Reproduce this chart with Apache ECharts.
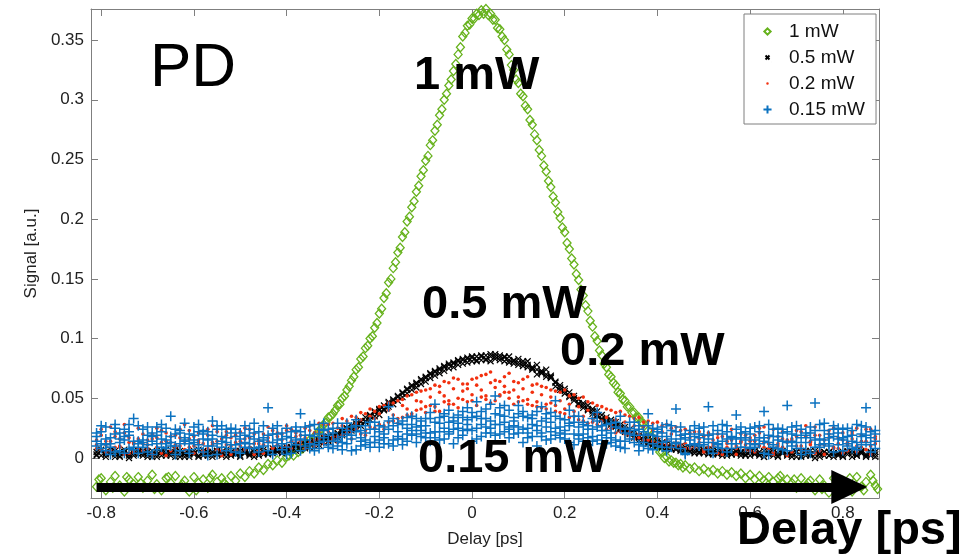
<!DOCTYPE html>
<html>
<head>
<meta charset="utf-8">
<script src="https://cdn.jsdelivr.net/npm/echarts@6/dist/echarts.min.js"></script>
<style>html,body{margin:0;padding:0;background:#fff;}#c{width:967px;height:560px;}</style>
</head>
<body>
<div id="c"></div>
<script>
// ---------- DATA ----------
const xTicks = [-0.8, -0.6, -0.4, -0.2, 0, 0.2, 0.4, 0.6, 0.8];
const yTicks = [0, 0.05, 0.1, 0.15, 0.2, 0.25, 0.3, 0.35];
const seriesNames = ['1 mW', '0.5 mW', '0.2 mW', '0.15 mW'];

// 1 mW trace: [delay ps, signal a.u.]
const green1mW = [
[-0.81,-0.024],[-0.80,-0.017],[-0.79,-0.027],[-0.78,-0.020],[-0.77,-0.015],[-0.76,-0.023],[-0.75,-0.028],[-0.74,-0.018],[-0.73,-0.022],[-0.72,-0.016],
[-0.71,-0.025],[-0.70,-0.019],[-0.69,-0.014],[-0.68,-0.022],[-0.67,-0.027],[-0.66,-0.017],[-0.65,-0.021],[-0.64,-0.015],[-0.63,-0.024],[-0.62,-0.019],
[-0.61,-0.028],[-0.60,-0.016],[-0.59,-0.021],[-0.58,-0.018],[-0.57,-0.025],[-0.56,-0.014],[-0.55,-0.020],[-0.54,-0.017],[-0.53,-0.023],[-0.52,-0.015],
[-0.51,-0.019],[-0.50,-0.013],[-0.49,-0.016],[-0.48,-0.011],[-0.47,-0.013],[-0.46,-0.008],[-0.45,-0.010],[-0.44,-0.005],[-0.43,-0.006],[-0.42,-0.002],
[-0.41,-0.004],[-0.40,0.001],
[-0.805,-0.018],[-0.775,-0.025],[-0.745,-0.016],[-0.715,-0.021],[-0.685,-0.026],[-0.655,-0.016],[-0.625,-0.022],[-0.595,-0.027],[-0.565,-0.017],[-0.535,-0.021],
[-0.395,0.002],[-0.39,0.005],[-0.385,0.002],[-0.38,0.007],[-0.375,0.005],[-0.37,0.009],[-0.365,0.008],[-0.36,0.012],[-0.355,0.011],[-0.35,0.015],
[-0.345,0.014],[-0.34,0.018],[-0.335,0.020],[-0.33,0.023],[-0.325,0.024],[-0.32,0.028],[-0.315,0.030],[-0.31,0.034],[-0.305,0.035],[-0.30,0.037],
[-0.295,0.040],[-0.29,0.044],[-0.285,0.045],[-0.28,0.050],[-0.275,0.052],[-0.27,0.057],[-0.265,0.060],[-0.26,0.065],[-0.255,0.068],[-0.25,0.074],
[-0.245,0.076],[-0.24,0.083],[-0.235,0.085],[-0.23,0.092],[-0.225,0.094],[-0.22,0.100],[-0.215,0.102],[-0.21,0.109],[-0.205,0.113],[-0.20,0.121],
[-0.195,0.125],[-0.19,0.134],[-0.185,0.138],[-0.18,0.147],[-0.175,0.150],[-0.17,0.159],[-0.165,0.164],[-0.16,0.172],[-0.155,0.176],[-0.15,0.185],
[-0.145,0.189],[-0.14,0.198],[-0.135,0.202],[-0.13,0.210],[-0.125,0.215],[-0.12,0.223],[-0.115,0.228],[-0.11,0.236],[-0.105,0.241],[-0.10,0.249],
[-0.095,0.253],[-0.09,0.262],[-0.085,0.266],[-0.08,0.274],[-0.075,0.279],[-0.07,0.287],[-0.065,0.292],[-0.06,0.300],[-0.055,0.305],[-0.05,0.312],
[-0.045,0.317],[-0.04,0.324],[-0.035,0.330],[-0.03,0.338],[-0.025,0.344],[-0.02,0.353],[-0.015,0.356],[-0.01,0.362],[-0.005,0.363],[0.00,0.368],
[0.005,0.368],[0.01,0.372],[0.015,0.371],[0.02,0.375],[0.025,0.372],[0.03,0.376],[0.035,0.371],[0.04,0.372],[0.045,0.367],[0.05,0.367],
[0.055,0.360],[0.06,0.359],[0.065,0.353],[0.07,0.350],[0.075,0.342],[0.08,0.338],[0.085,0.329],[0.09,0.325],[0.095,0.317],[0.10,0.314],
[0.105,0.305],[0.11,0.303],[0.115,0.295],[0.12,0.292],[0.125,0.283],[0.13,0.279],[0.135,0.271],[0.14,0.266],[0.145,0.258],[0.15,0.253],
[0.155,0.245],[0.16,0.240],[0.165,0.232],[0.17,0.227],[0.175,0.219],[0.18,0.214],[0.185,0.206],[0.19,0.201],[0.195,0.193],[0.20,0.189],
[0.205,0.180],[0.21,0.175],[0.215,0.167],[0.22,0.162],[0.225,0.154],[0.23,0.149],[0.235,0.141],[0.24,0.136],[0.245,0.128],[0.25,0.123],
[0.255,0.115],[0.26,0.110],[0.265,0.102],[0.27,0.098],[0.275,0.090],[0.28,0.086],[0.285,0.079],[0.29,0.076],[0.295,0.070],[0.30,0.068],
[0.305,0.063],[0.31,0.061],[0.315,0.055],[0.32,0.054],[0.325,0.049],[0.33,0.048],[0.335,0.043],[0.34,0.043],[0.345,0.038],[0.35,0.038],
[0.355,0.034],[0.36,0.034],[0.365,0.030],[0.37,0.029],[0.375,0.025],[0.38,0.023],[0.385,0.018],[0.39,0.017],[0.395,0.011],[0.40,0.010],
[0.405,0.005],[0.41,0.005],[0.415,0.000],[0.42,0.001],[0.425,-0.003],[0.43,-0.002],[0.435,-0.004],[0.44,-0.004],[0.445,-0.006],[0.45,-0.005],
[0.455,-0.008],
[0.46,-0.006],[0.47,-0.009],[0.48,-0.008],[0.49,-0.011],[0.50,-0.009],[0.51,-0.012],[0.52,-0.010],[0.53,-0.013],[0.54,-0.011],[0.55,-0.014],
[0.56,-0.012],[0.57,-0.015],[0.58,-0.013],[0.59,-0.017],[0.60,-0.014],[0.61,-0.018],[0.62,-0.015],[0.63,-0.019],[0.64,-0.016],[0.65,-0.020],
[0.66,-0.017],[0.67,-0.022],[0.68,-0.018],[0.69,-0.021],[0.70,-0.025],[0.71,-0.017],[0.72,-0.024],[0.73,-0.019],[0.74,-0.027],[0.75,-0.018],
[0.76,-0.023],[0.77,-0.029],[0.78,-0.017],[0.79,-0.025],[0.80,-0.019],[0.81,-0.022],[0.82,-0.028],[0.83,-0.016],[0.84,-0.024],[0.85,-0.020],
[0.86,-0.014],[0.87,-0.023],
[0.635,-0.021],[0.665,-0.015],[0.695,-0.018],[0.725,-0.021],[0.755,-0.026],[0.785,-0.021],[0.815,-0.017],[0.845,-0.027],[0.865,-0.019],[0.875,-0.026]
];

// common delay grid (ps) of the three weaker traces
const delay = [
-0.81,-0.80,-0.79,-0.78,-0.77,-0.76,-0.75,-0.74,-0.73,-0.72,
-0.71,-0.70,-0.69,-0.68,-0.67,-0.66,-0.65,-0.64,-0.63,-0.62,
-0.61,-0.60,-0.59,-0.58,-0.57,-0.56,-0.55,-0.54,-0.53,-0.52,
-0.51,-0.50,-0.49,-0.48,-0.47,-0.46,-0.45,-0.44,-0.43,-0.42,
-0.41,-0.40,-0.39,-0.38,-0.37,-0.36,-0.35,-0.34,-0.33,-0.32,
-0.31,-0.30,-0.29,-0.28,-0.27,-0.26,-0.25,-0.24,-0.23,-0.22,
-0.21,-0.20,-0.19,-0.18,-0.17,-0.16,-0.15,-0.14,-0.13,-0.12,
-0.11,-0.10,-0.09,-0.08,-0.07,-0.06,-0.05,-0.04,-0.03,-0.02,
-0.01,0.00,0.01,0.02,0.03,0.04,0.05,0.06,0.07,0.08,
0.09,0.10,0.11,0.12,0.13,0.14,0.15,0.16,0.17,0.18,
0.19,0.20,0.21,0.22,0.23,0.24,0.25,0.26,0.27,0.28,
0.29,0.30,0.31,0.32,0.33,0.34,0.35,0.36,0.37,0.38,
0.39,0.40,0.41,0.42,0.43,0.44,0.45,0.46,0.47,0.48,
0.49,0.50,0.51,0.52,0.53,0.54,0.55,0.56,0.57,0.58,
0.59,0.60,0.61,0.62,0.63,0.64,0.65,0.66,0.67,0.68,
0.69,0.70,0.71,0.72,0.73,0.74,0.75,0.76,0.77,0.78,
0.79,0.80,0.81,0.82,0.83,0.84,0.85,0.86,0.87
];

// signals below in units of 0.001 a.u., one value per delay
const black05mW_scanA = [
2,6,3,5,1,4,7,3,2,5, 4,1,6,3,5,2,4,7,3,1, 5,3,2,6,4,1,3,5,7,2, 3,6,4,2,5,3,7,4,6,5,
4,9,6,10,7,12,9,14,11,17, 14,19,17,23,21,27,25,31,30,36, 35,41,40,47,45,52,51,58,57,63, 62,68,67,73,71,77,75,80,78,83,
80,85,81,86,82,87,83,86,81,85, 82,78,81,76,75,70,72,68,67,60, 61,54,55,48,49,42,44,37,39,32, 34,28,30,24,26,20,21,15,18,12,
15,10,13,8,11,7,10,5,9,4, 8,4,7,3,6,2,5,3,6,2, 5,2,6,3,1,4,7,2,5,3, 1,5,2,6,3,0,4,2,5,1, 4,2,6,1,3,5,2,4,1
];
const black05mW_scanB = [
5,2,4,7,3,1,5,2,6,3, 2,5,3,1,6,4,2,5,1,4, 3,6,1,4,2,5,6,2,4,3, 6,2,5,4,1,6,3,5,4,7,
8,5,9,6,11,8,13,10,15,13, 18,15,21,19,25,23,29,27,34,32, 39,36,44,43,49,48,55,54,61,59, 66,64,71,69,75,73,79,76,82,79,
84,81,85,82,86,81,87,82,85,80, 79,83,77,81,74,78,71,74,68,64, 57,58,51,52,45,46,40,41,35,36, 30,32,26,28,22,24,17,19,14,16,
11,14,9,12,7,11,6,9,5,8, 4,7,3,7,4,6,2,6,3,5, 2,6,3,5,1,6,2,4,6,3, 4,1,5,2,6,3,1,5,2,4, 2,5,3,6,2,4,1,5,3
];
const black05mW_scanC = [
3,7,1,4,6,2,5,0,4,6, 6,3,1,5,2,7,4,1,6,3, 1,4,7,2,5,3,6,4,1,5, 4,1,6,3,7,2,5,3,8,6,
7,6,8,11,8,11,12,13,14,16, 17,18,20,22,24,25,28,30,31,35, 38,40,41,46,48,51,54,57,60,62, 65,67,70,72,74,76,78,79,81,82,
83,84,82,85,83,85,85,84,84,82, 81,80,79,78,76,74,73,70,69,63, 59,56,52,50,46,44,41,39,36,33, 31,29,27,25,23,21,18,17,15,13,
12,11,12,9,8,8,7,7,6,6, 5,6,4,5,3,5,4,3,5,4, 3,5,4,2,6,3,5,1,4,2, 3,5,1,4,2,6,3,5,2,4, 3,1,5,4,2,6,3,2,5
];
const red02mW_scanA = [
8,19,5,14,22,10,3,17,12,25, 6,15,20,9,13,2,18,11,24,7, 16,4,21,12,8,27,14,6,19,10, 13,22,7,17,3,15,11,26,9,18,
20,10,24,13,19,8,27,15,22,12, 28,16,25,19,31,22,34,20,37,26, 39,28,44,30,46,33,49,36,53,40, 56,38,58,43,60,47,63,45,66,49,
62,48,67,51,70,46,65,53,68,50, 64,47,66,45,61,43,60,41,57,39, 55,37,52,35,50,31,47,30,44,27, 41,25,38,22,36,19,33,17,30,15,
29,13,27,11,25,10,23,8,21,9, 22,7,19,12,4,18,9,15,3,20, 11,17,5,21,13,8,24,10,16,2, 14,23,7,18,11,26,6,15,20,9, 17,4,13,22,10,19,7,24,12
];
const red02mW_scanB = [
15,7,11,26,9,16,21,4,13,8, 20,11,3,17,23,14,6,19,10,28, 9,18,13,5,24,11,7,16,22,3, 19,10,16,24,12,6,20,14,8,21,
9,23,14,18,11,25,13,21,16,28, 14,29,18,33,21,35,24,38,23,41, 25,43,27,46,31,48,34,52,37,55, 41,57,44,61,39,64,48,67,42,62,
47,66,44,69,52,72,48,64,55,71, 45,63,48,68,44,62,42,59,46,56, 38,57,34,53,32,51,29,46,28,43, 24,40,21,39,20,35,16,34,15,31,
14,30,12,28,9,26,11,24,8,22, 16,5,21,10,17,3,14,24,8,13, 19,6,14,25,9,17,3,12,22,15, 5,18,10,27,13,4,19,11,23,8, 12,21,6,16,25,9,14,3,18
];
const red02mW_scanC = [
11,24,14,6,18,9,28,13,5,16, 12,8,16,25,4,21,13,9,17,14, 23,10,15,6,19,13,22,2,11,17, 7,14,25,9,20,12,4,17,23,11,
15,27,8,21,14,17,23,10,29,19, 22,18,13,27,24,16,29,32,19,35, 33,37,24,40,36,29,44,41,35,48, 47,43,51,39,55,52,45,58,50,56,
58,53,61,57,49,63,59,52,60,55, 57,51,58,49,55,47,53,45,51,44, 48,41,45,39,43,35,40,33,37,31, 34,28,32,25,30,22,27,20,26,19,
23,17,22,15,20,13,19,12,17,10, 13,18,9,15,20,7,12,17,10,14, 7,14,19,10,26,12,5,18,9,13, 16,10,22,6,14,19,11,3,17,25, 8,15,11,20,5,14,24,10,16
];
const blue015mW_scanA = [
10,22,6,17,25,13,4,19,9,27, 15,5,21,12,28,8,18,3,23,14, 7,26,11,20,2,16,24,9,13,21, 18,4,27,12,8,22,15,6,25,10,
21,9,17,26,6,19,12,28,8,23, 11,25,14,7,29,16,22,10,27,13, 30,15,26,12,33,18,28,14,35,20, 31,17,38,22,34,16,40,24,36,19,
42,23,35,18,41,25,37,20,44,26, 34,21,39,17,36,23,31,15,38,19, 33,16,29,20,35,14,27,18,31,12, 28,13,26,9,24,16,30,11,22,8,
25,10,21,6,27,13,19,4,23,11, 17,26,7,20,12,28,5,18,24,9, 22,8,15,27,4,19,11,25,14,6, 26,13,3,21,17,9,28,12,20,5, 16,24,10,19,7,27,13,22,8
];
const blue015mW_scanB = [
18,8,26,12,5,21,15,28,7,14, 24,11,3,19,9,25,13,20,6,17, 12,19,28,5,22,10,3,27,17,8, 5,21,13,24,16,9,27,19,3,15,
12,25,4,15,22,10,27,6,20,14, 24,8,29,18,12,26,7,23,15,30, 13,27,17,31,10,29,16,34,19,26, 18,33,21,30,15,37,20,34,17,39,
24,38,16,33,26,45,19,36,22,40, 20,37,24,34,18,39,21,33,16,35, 17,32,13,30,19,28,11,33,15,27, 12,29,15,25,8,30,13,24,10,27,
7,24,13,28,9,22,16,3,20,12, 25,11,19,4,23,14,27,8,16,21, 9,20,26,12,17,3,24,15,7,22, 14,27,8,19,4,23,16,29,10,18, 21,6,25,14,28,11,19,5,23
];
const blue015mW_scanC = [
14,27,11,3,20,16,24,8,33,12, 9,19,14,26,16,12,35,10,21,15, 20,13,8,23,15,31,12,18,6,25, 11,16,19,8,29,14,10,42,13,20,
16,3,22,11,37,15,8,18,13,29, 19,14,10,25,20,6,32,17,21,9, 24,9,20,43,15,22,11,25,28,13, 23,27,14,45,22,25,30,12,29,23,
32,14,47,28,21,31,52,28,30,17, 27,44,13,25,28,10,43,26,22,48, 21,23,40,11,26,20,17,24,38,19, 17,21,10,35,14,20,23,6,19,37,
12,18,26,14,16,41,8,20,15,27, 10,19,43,13,9,20,16,12,36,17, 15,12,9,17,39,13,18,8,21,44, 20,8,17,13,26,46,9,15,12,24, 11,15,18,8,13,20,42,17,14
];
const blue015mW_scanD = [
21,12,16,9,28,6,18,22,14,4, 13,26,18,7,22,15,10,24,12,29, 4,15,22,16,10,19,27,14,24,11, 24,12,9,18,21,5,17,13,20,27,
7,18,13,23,16,26,19,11,24,17, 9,21,16,13,23,19,27,14,11,24, 18,22,12,24,27,16,31,20,23,33, 27,21,33,17,29,35,22,31,25,34,
28,34,25,39,33,21,28,42,35,24, 31,26,35,21,33,27,18,37,30,25, 26,20,27,35,16,30,24,14,26,23, 23,17,30,14,21,25,19,27,13,20,
19,22,9,18,23,12,26,17,11,18, 20,13,16,27,11,8,22,17,12,26, 17,25,11,22,14,28,9,18,24,13, 10,19,24,6,21,15,11,23,17,27, 25,17,12,23,9,18,26,11,20
];

// arrow annotation along the delay axis: [delay, signal]
const arrowStart = [-0.81, -0.0243];
const arrowEnd = [0.814, -0.0243];

// ---------- CHART ----------
function scanPairs(vals) { return delay.map((x, i) => [x, vals[i] / 1000]); }

const FONT = "'Liberation Sans', Arial, Helvetica, sans-serif";
const GREEN = '#66b21c', BLACK = '#000000', RED = '#f2300f', BLUE = '#0b72c0';
const frameColor = '#7f7f7f';

const chart = echarts.init(document.getElementById('c'), null, { renderer: 'canvas' });

function axisCommon(isX, show) {
  return {
    type: 'value',
    min: isX ? -0.822 : -0.0335,
    max: isX ? 0.878 : 0.376,
    axisLine: { show: true, onZero: false, lineStyle: { color: frameColor, width: 1 } },
    axisTick: { show: true, inside: true, length: 7, lineStyle: { color: frameColor, width: 1 },
                customValues: isX ? xTicks : yTicks },
    axisLabel: { show: show, customValues: isX ? xTicks : yTicks, color: '#222', fontSize: 17,
                 fontFamily: FONT, margin: 7 },
    splitLine: { show: false }
  };
}

const xBottom = Object.assign(axisCommon(true, true), {
  position: 'bottom', name: 'Delay [ps]', nameLocation: 'middle', nameGap: 33,
  nameTextStyle: { color: '#222', fontSize: 17, fontFamily: FONT }
});
const xTop = Object.assign(axisCommon(true, false), { position: 'top' });
const yLeft = Object.assign(axisCommon(false, true), {
  position: 'left', name: 'Signal [a.u.]', nameLocation: 'middle', nameGap: 50,
  nameTextStyle: { color: '#222', fontSize: 17, fontFamily: FONT }
});
const yRight = Object.assign(axisCommon(false, false), { position: 'right' });

const option = {
  animation: false,
  backgroundColor: '#fff',
  textStyle: { fontFamily: FONT },
  grid: { left: 91, right: 88, top: 9, bottom: 62, containLabel: false },
  xAxis: [xBottom, xTop],
  yAxis: [yLeft, yRight],
  legend: {
    orient: 'vertical', left: 744, top: 14,
    padding: [8, 11, 5, 18], itemGap: 7, itemWidth: 9, itemHeight: 9,
    backgroundColor: '#fff', borderColor: frameColor, borderWidth: 1, borderRadius: 0,
    textStyle: { fontSize: 19, color: '#111', fontFamily: FONT, padding: [0, 0, 0, 12] },
    data: [
      { name: seriesNames[0], icon: 'path://M0,0h0.01M5,1.5L8.5,5L5,8.5L1.5,5Z M10,10h-0.01' },
      { name: seriesNames[1], icon: 'path://M0,0h0.01M2.8,2.8L7.2,7.2M7.2,2.8L2.8,7.2M10,10h-0.01' },
      { name: seriesNames[2], icon: 'path://M0,0h0.01M3.6,5a1.4,1.4 0 1,0 2.8,0a1.4,1.4 0 1,0 -2.8,0M10,10h-0.01' },
      { name: seriesNames[3], icon: 'path://M0,0h0.01M5,0.5L5,9.5M0.5,5L9.5,5M10,10h-0.01' }
    ]
  },
  series: [
    {
      name: seriesNames[0], type: 'scatter', silent: true,
      symbol: 'diamond', symbolSize: [8, 9],
      itemStyle: { color: 'rgba(255,255,255,0)', borderColor: GREEN, borderWidth: 1.3, opacity: 1 },
      data: green1mW, z: 2
    },
    {
      name: seriesNames[1], type: 'scatter', silent: true,
      symbol: 'path://M0,0L10,10M10,0L0,10', symbolSize: 6,
      itemStyle: { color: BLACK, borderColor: BLACK, borderWidth: 1.2, opacity: 1 },
      data: scanPairs(black05mW_scanA).concat(scanPairs(black05mW_scanB), scanPairs(black05mW_scanC)), z: 3
    },
    {
      name: seriesNames[2], type: 'scatter', silent: true,
      symbol: 'circle', symbolSize: 3.6,
      itemStyle: { color: RED, opacity: 1 },
      data: scanPairs(red02mW_scanA).concat(scanPairs(red02mW_scanB), scanPairs(red02mW_scanC)), z: 4
    },
    {
      name: seriesNames[3], type: 'scatter', silent: true,
      symbol: 'path://M5,0L5,10M0,5L10,5', symbolSize: 10,
      itemStyle: { color: BLUE, borderColor: BLUE, borderWidth: 1.5, opacity: 1 },
      data: scanPairs(blue015mW_scanA).concat(scanPairs(blue015mW_scanB), scanPairs(blue015mW_scanC), scanPairs(blue015mW_scanD)),
      z: 5,
      markLine: {
        silent: true, z: 10, animation: false,
        symbol: ['none', 'triangle'], symbolSize: [34, 36],
        label: { show: false },
        lineStyle: { color: '#000', width: 9, type: 'solid', opacity: 1 },
        emphasis: { disabled: true },
        data: [[{ coord: arrowStart }, { coord: arrowEnd }]]
      }
    }
  ],
  graphic: [
    { type: 'text', z: 100, style: { x: 150, y: 69, text: 'PD', font: "62px " + FONT, fill: '#000', verticalAlign: 'middle' } },
    { type: 'text', z: 100, style: { x: 414, y: 76, text: '1 mW', font: "bold 47px " + FONT, fill: '#000', verticalAlign: 'middle' } },
    { type: 'text', z: 100, style: { x: 422, y: 305, text: '0.5 mW', font: "bold 47px " + FONT, fill: '#000', verticalAlign: 'middle' } },
    { type: 'text', z: 100, style: { x: 560, y: 352, text: '0.2 mW', font: "bold 47px " + FONT, fill: '#000', verticalAlign: 'middle' } },
    { type: 'text', z: 100, style: { x: 418, y: 459, text: '0.15 mW', font: "bold 47px " + FONT, fill: '#000', verticalAlign: 'middle' } },
    { type: 'text', z: 100, style: { x: 737, y: 531, text: 'Delay [ps]', font: "bold 47px " + FONT, fill: '#000', verticalAlign: 'middle' } }
  ]
};
chart.setOption(option);
</script>
</body>
</html>
